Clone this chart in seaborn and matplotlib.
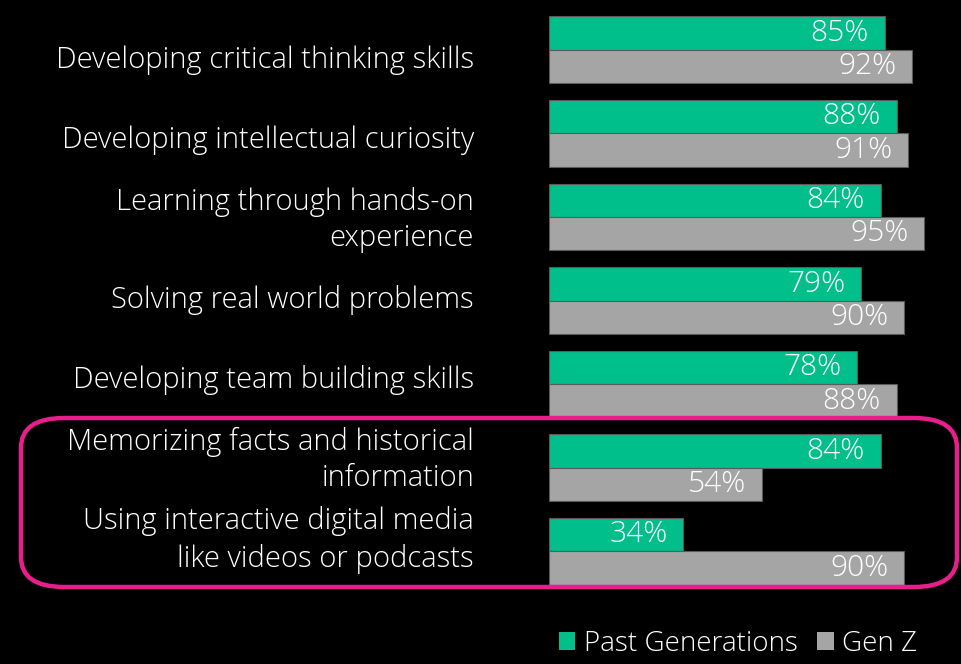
import matplotlib
matplotlib.use("Agg")
import matplotlib.pyplot as plt
from matplotlib.patches import FancyBboxPatch, Patch
import seaborn as sns
import pandas as pd

categories = [
    "Developing critical thinking skills",
    "Developing intellectual curiosity",
    "Learning through hands-on\nexperience",
    "Solving real world problems",
    "Developing team building skills",
    "Memorizing facts and historical\ninformation",
    "Using interactive digital media\nlike videos or podcasts",
]
past_generations = [85, 88, 84, 79, 78, 84, 34]
gen_z = [92, 91, 95, 90, 88, 54, 90]
series_names = ["Past Generations", "Gen Z"]
series_colors = ["#00BF8A", "#A5A5A5"]

df = pd.DataFrame({
    "category": categories * 2,
    "group": [series_names[0]] * len(categories) + [series_names[1]] * len(categories),
    "value": past_generations + gen_z,
})

sns.set_theme(style="dark")
plt.rcParams["font.family"] = ["Open Sans", "DejaVu Sans"]
WEIGHT = "light"

fig = plt.figure(figsize=(9.62, 6.64), dpi=100, facecolor="black")
ax = fig.add_axes([549 / 962, 1 - 593 / 664, 395 / 962, 585 / 664])
ax.set_facecolor("black")

sns.barplot(
    data=df, y="category", x="value", hue="group", order=categories,
    hue_order=series_names, palette=series_colors, orient="h", saturation=1,
    width=0.8, edgecolor="#5a5a5a", linewidth=0.8, legend=False, ax=ax,
)

ax.set_xlim(0, 100)
ax.set_ylim(len(categories) - 0.5, -0.5)
ax.set_xlabel("")
ax.set_ylabel("")
ax.set_xticks([])
ax.set_yticks([])
for s in ax.spines.values():
    s.set_visible(False)

# category labels, evenly stacked down the left side
label_top, label_step = 1 - 60 / 664, 80 / 664
for i, name in enumerate(categories):
    fig.text(474 / 962, label_top - i * label_step, name, ha="right",
             va="center", ma="right", color="white", fontsize=21,
             fontweight=WEIGHT, linespacing=1.33)

# value labels inside the end of each bar
for container in ax.containers:
    for patch in container:
        w = patch.get_width()
        ax.text(w - 4.0, patch.get_y() + patch.get_height() / 2, f"{w:.0f}%",
                ha="right", va="center", color="white", fontsize=21.5,
                fontweight=WEIGHT)

# highlight frame around the last two items
frame = FancyBboxPatch((21 / 962, 1 - 587 / 664), 936 / 962, 169 / 664,
                       boxstyle="round,pad=0,rounding_size=0.045",
                       transform=fig.transFigure, fill=False,
                       edgecolor="#E91E8C", linewidth=3.2, zorder=5)
fig.patches.append(frame)

handles = [Patch(facecolor=c, edgecolor="none", label=n)
           for c, n in zip(series_colors, series_names)]
leg = fig.legend(handles=handles, loc="lower right",
                 bbox_to_anchor=(942 / 962, -0.028), ncol=2, frameon=False,
                 fontsize=20, handlelength=0.6, handleheight=0.6,
                 handletextpad=0.3, columnspacing=0.7)
for t in leg.get_texts():
    t.set_color("white")
    t.set_fontweight(WEIGHT)

fig.savefig("out.png", dpi=100, facecolor="black")
